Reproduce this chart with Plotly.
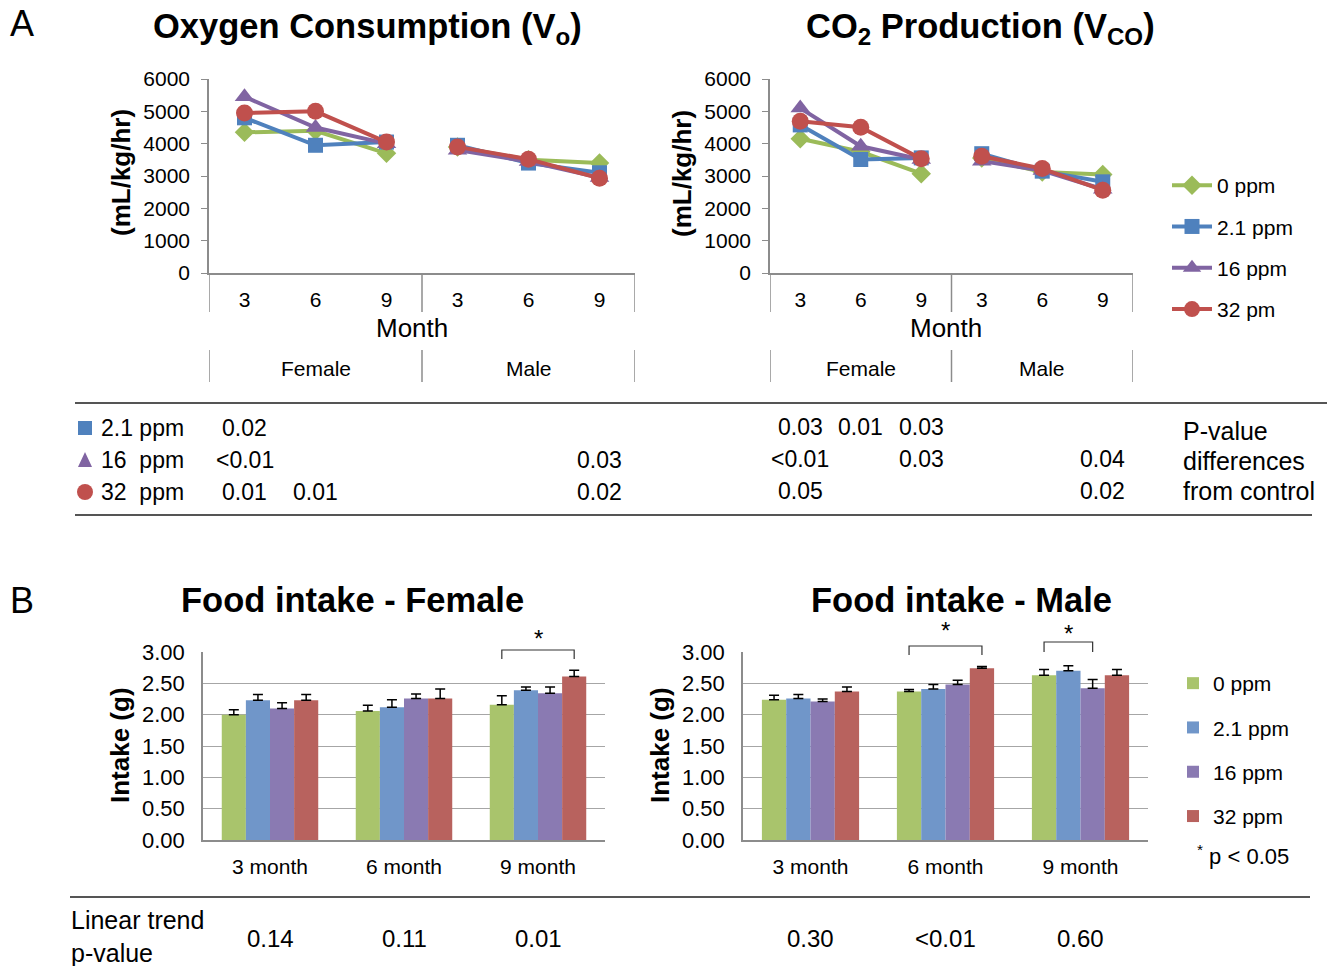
import plotly.graph_objects as go

W, H = 1327, 966
def px(x): return x / W
def py(y): return 1 - y / H

FONT = "Liberation Sans, Arial, sans-serif"

# ---------------- data ----------------
series = ["0 ppm", "2.1 ppm", "16 ppm", "32 pm"]
bar_series = ["0 ppm", "2.1 ppm", "16 ppm", "32 ppm"]
months = ["3", "6", "9"]
sexes = ["Female", "Male"]

# Oxygen consumption (mL/kg/hr): Female 3,6,9 then Male 3,6,9
o2_0ppm = [4350, 4400, 3700, 3900, 3500, 3400]
o2_2p1ppm = [4800, 3950, 4050, 3950, 3400, 3100]
o2_16ppm = [5450, 4500, 4000, 3800, 3450, 2950]
o2_32ppm = [4950, 5000, 4050, 3900, 3520, 2930]

# CO2 production (mL/kg/hr)
co2_0ppm = [4150, 3750, 3070, 3560, 3120, 3050]
co2_2p1ppm = [4580, 3510, 3560, 3690, 3150, 2820]
co2_16ppm = [5100, 3920, 3510, 3460, 3170, 2590]
co2_32ppm = [4690, 4510, 3530, 3610, 3230, 2560]

# p-value table (columns: Female 3,6,9, Male 3,6,9)
p_rows = ["2.1 ppm", "16  ppm", "32  ppm"]
p_o2 = [["0.02", "", "", "", "", ""],
        ["<0.01", "", "", "", "", "0.03"],
        ["0.01", "0.01", "", "", "", "0.02"]]
p_co2 = [["0.03", "0.01", "0.03", "", "", ""],
         ["<0.01", "", "0.03", "", "", "0.04"],
         ["0.05", "", "", "", "", "0.02"]]

# Food intake (g)
intake_months = ["3 month", "6 month", "9 month"]
female_0ppm = [2.00, 2.06, 2.16]
female_2p1ppm = [2.23, 2.12, 2.39]
female_16ppm = [2.10, 2.26, 2.34]
female_32ppm = [2.23, 2.26, 2.61]
female_err_0ppm = [0.08, 0.09, 0.14]
female_err_2p1ppm = [0.09, 0.12, 0.05]
female_err_16ppm = [0.09, 0.07, 0.10]
female_err_32ppm = [0.09, 0.15, 0.10]

male_0ppm = [2.24, 2.37, 2.63]
male_2p1ppm = [2.26, 2.41, 2.70]
male_16ppm = [2.21, 2.48, 2.42]
male_32ppm = [2.37, 2.74, 2.63]
male_err_0ppm = [0.07, 0.03, 0.09]
male_err_2p1ppm = [0.06, 0.07, 0.08]
male_err_16ppm = [0.04, 0.07, 0.14]
male_err_32ppm = [0.07, 0.03, 0.09]

trend_female = ["0.14", "0.11", "0.01"]
trend_male = ["0.30", "<0.01", "0.60"]

# ---------------- styles ----------------
line_colors = ["#9BBB59", "#4F81BD", "#8064A2", "#C0504D"]
bar_colors = ["#A9C46C", "#7096C9", "#8A7AB2", "#B8625E"]
symbols = ["diamond", "square", "triangle-up", "circle"]
msizes = [15, 15, 17, 17]
GRAY = "#8C8C8C"

fig = go.Figure()

o2_sets = [o2_0ppm, o2_2p1ppm, o2_16ppm, o2_32ppm]
co2_sets = [co2_0ppm, co2_2p1ppm, co2_16ppm, co2_32ppm]
n = len(months)
x_f = list(range(n))
x_m = [n + i for i in range(n)]
x_line = x_f + [None] + x_m

for axis_i, sets in enumerate([o2_sets, co2_sets]):
    xa = "x" if axis_i == 0 else "x2"
    ya = "y" if axis_i == 0 else "y2"
    for i, vals in enumerate(sets):
        fig.add_trace(go.Scatter(
            x=x_line, y=vals[:n] + [None] + vals[n:],
            xaxis=xa, yaxis=ya, mode="lines+markers", name=series[i],
            line=dict(color=line_colors[i], width=4),
            marker=dict(symbol=symbols[i], size=msizes[i], color=line_colors[i]),
            showlegend=(axis_i == 0), legend="legend", legendgroup=f"l{i}",
            connectgaps=False,
        ))

fem_sets = [female_0ppm, female_2p1ppm, female_16ppm, female_32ppm]
fem_errs = [female_err_0ppm, female_err_2p1ppm, female_err_16ppm, female_err_32ppm]
mal_sets = [male_0ppm, male_2p1ppm, male_16ppm, male_32ppm]
mal_errs = [male_err_0ppm, male_err_2p1ppm, male_err_16ppm, male_err_32ppm]

for axis_i, (sets, errs) in enumerate([(fem_sets, fem_errs), (mal_sets, mal_errs)]):
    xa = "x3" if axis_i == 0 else "x4"
    ya = "y3" if axis_i == 0 else "y4"
    for i, vals in enumerate(sets):
        fig.add_trace(go.Bar(
            x=intake_months, y=vals, xaxis=xa, yaxis=ya, name=bar_series[i],
            marker=dict(color=bar_colors[i], line=dict(width=0)),
            error_y=dict(type="data", array=errs[i], arrayminus=[0] * len(vals),
                         symmetric=False, color="black", thickness=1.5, width=5),
            showlegend=(axis_i == 1), legend="legend2", legendgroup=f"b{i}",
        ))

tickfont = dict(family=FONT, size=21, color="black")
bartickfont = dict(family=FONT, size=22, color="black")

def line_xaxis(dom, anchor):
    return dict(domain=dom, anchor=anchor, range=[-0.5, 2 * n - 0.5],
                tickvals=x_f + x_m, ticktext=months + months,
                showgrid=False, zeroline=False, showline=True, linecolor=GRAY,
                linewidth=1.5, ticks="", tickfont=tickfont, ticklabelstandoff=7,
                fixedrange=True, automargin=False)

def line_yaxis(dom, anchor):
    return dict(domain=dom, anchor=anchor, range=[0, 6000], dtick=1000,
                showgrid=False, zeroline=False, showline=True, linecolor=GRAY,
                linewidth=1.5, ticks="outside", ticklen=6, tickcolor=GRAY,
                tickfont=tickfont, ticklabelstandoff=7, automargin=False)

def bar_xaxis(dom, anchor):
    return dict(domain=dom, anchor=anchor, type="category", showgrid=False,
                showline=True, linecolor=GRAY, linewidth=1.5, ticks="",
                tickfont=tickfont, ticklabelstandoff=7, automargin=False)

def bar_yaxis(dom, anchor):
    return dict(domain=dom, anchor=anchor, range=[0, 3.0001], dtick=0.5,
                tickformat=".2f", showgrid=True, gridcolor="#A6A6A6", gridwidth=1,
                zeroline=False, showline=True, linecolor=GRAY, linewidth=1.5,
                ticks="", tickfont=bartickfont, ticklabelstandoff=12, automargin=False)

ydom_top = [py(273), py(79)]
ydom_bot = [py(840), py(652)]
bargap = 0.28

fig.update_layout(
    width=W, height=H, margin=dict(l=0, r=0, t=0, b=0, pad=0, autoexpand=False),
    paper_bgcolor="white", plot_bgcolor="white",
    font=dict(family=FONT, color="black"),
    barmode="group", bargap=bargap, bargroupgap=0,
    xaxis=line_xaxis([px(209), px(635)], "y"),
    yaxis=line_yaxis(ydom_top, "x"),
    xaxis2=line_xaxis([px(770), px(1133)], "y2"),
    yaxis2=line_yaxis(ydom_top, "x2"),
    xaxis3=bar_xaxis([px(203), px(605)], "y3"),
    yaxis3=bar_yaxis(ydom_bot, "x3"),
    xaxis4=bar_xaxis([px(743), px(1148)], "y4"),
    yaxis4=bar_yaxis(ydom_bot, "x4"),
    legend=dict(x=px(1167), y=py(165), xanchor="left", yanchor="top",
                font=dict(family=FONT, size=21), tracegroupgap=11,
                bgcolor="rgba(0,0,0,0)", itemwidth=40),
    legend2=dict(x=px(1173), y=py(663), xanchor="left", yanchor="top",
                 font=dict(family=FONT, size=21), tracegroupgap=14,
                 bgcolor="rgba(0,0,0,0)", itemwidth=30),
)

ann = []
def A(text, x, y, size=20, xref="paper", yref="paper", xanchor="center",
      yanchor="middle", color="black", angle=0, align="center"):
    ann.append(dict(text=text, x=x, y=y, xref=xref, yref=yref, xanchor=xanchor,
                    yanchor=yanchor, showarrow=False, textangle=angle, align=align,
                    font=dict(family=FONT, size=size, color=color)))

TS = 34.5
# panel letters and titles
A("A", px(22), py(23), size=36)
A("B", px(22), py(600), size=36)
A("<b>Oxygen Consumption (V<sub>o</sub>)</b>", px(367), py(28), size=TS)
A("<b>CO<sub>2</sub> Production (V<sub>CO</sub>)</b>", px(980), py(28), size=TS)
A("<b>Food intake - Female</b>", px(352), py(600), size=TS)
A("<b>Food intake - Male</b>", px(961), py(600), size=TS)

# axis titles
A("<b>(mL/kg/hr)</b>", px(121), py(173), size=26, angle=-90)
A("<b>(mL/kg/hr)</b>", px(682), py(173), size=26, angle=-90)
A("<b>Intake (g)</b>", px(120), py(745), size=26, angle=-90)
A("<b>Intake (g)</b>", px(660), py(745), size=26, angle=-90)
A("Month", px(412), py(328), size=26)
A("Month", px(946), py(328), size=26)

# sex group labels and dividers
shapes = []
for xa in ["x", "x2"]:
    for k, s in enumerate(sexes):
        A(s, (n - 1) / 2 + k * n, py(368), size=21, xref=xa)
    for xd in [-0.5, n - 0.5, 2 * n - 0.5]:
        for y0, y1 in [(273, 312), (350, 382)]:
            shapes.append(dict(type="line", xref=xa, yref="paper", x0=xd, x1=xd,
                               y0=py(y0), y1=py(y1), line=dict(color=GRAY, width=1.5)))

# p-value table
shapes.append(dict(type="line", xref="paper", yref="paper", x0=px(75), x1=1,
                   y0=py(403), y1=py(403), line=dict(color="#555555", width=2)))
shapes.append(dict(type="line", xref="paper", yref="paper", x0=px(75), x1=px(1312),
                   y0=py(515), y1=py(515), line=dict(color="#555555", width=2)))
row_y = [428, 460, 492]
# row key symbols (square, triangle, circle) in the dose colours
sx = 85
shapes.append(dict(type="rect", xref="paper", yref="paper", x0=px(sx - 7), x1=px(sx + 7),
                   y0=py(row_y[0] + 7), y1=py(row_y[0] - 7),
                   fillcolor=line_colors[1], line=dict(width=0)))
shapes.append(dict(type="path", xref="paper", yref="paper",
                   path=f"M {px(sx - 7)},{py(row_y[1] + 7)} L {px(sx + 7)},{py(row_y[1] + 7)} L {px(sx)},{py(row_y[1] - 8)} Z",
                   fillcolor=line_colors[2], line=dict(width=0)))
shapes.append(dict(type="circle", xref="paper", yref="paper", x0=px(sx - 8), x1=px(sx + 8),
                   y0=py(row_y[2] + 8), y1=py(row_y[2] - 8),
                   fillcolor=line_colors[3], line=dict(width=0)))
for r, lab in enumerate(p_rows):
    A(lab.replace(" ", "&nbsp;"), px(99), py(row_y[r]), size=23, xanchor="left")
    for c in range(2 * n):
        if p_o2[r][c]:
            A(p_o2[r][c].replace("<", "&lt;"), c, py(row_y[r]), size=23, xref="x")
        if p_co2[r][c]:
            A(p_co2[r][c].replace("<", "&lt;"), c, py(row_y[r] - 1), size=23, xref="x2")
A("P-value", px(1181), py(431), size=25, xanchor="left")
A("differences", px(1181), py(461), size=25, xanchor="left")
A("from control", px(1181), py(491), size=25, xanchor="left")

# significance brackets
w = (1 - bargap) / 4
def bracket(xa, cat, i0, i1, ytop, ybot, ystar):
    x0 = cat + (i0 - 1.5) * w
    x1 = cat + (i1 - 1.5) * w
    shapes.append(dict(type="path", xref=xa, yref="paper",
                       path=f"M {x0},{py(ybot)} L {x0},{py(ytop)} L {x1},{py(ytop)} L {x1},{py(ybot)}",
                       line=dict(color="#333333", width=1.2)))
    A("*", (x0 + x1) / 2, py(ystar), size=24, xref=xa)

bracket("x3", 2, 0, 3, 650, 659, 638)
bracket("x4", 1, 0, 3, 646, 655, 630)
bracket("x4", 2, 0, 2, 642, 652, 633)
A("<sup>*</sup> p &lt; 0.05", px(1195), py(855), size=22, xanchor="left")

# linear trend row
shapes.append(dict(type="line", xref="paper", yref="paper", x0=px(70), x1=px(1310),
                   y0=py(897), y1=py(897), line=dict(color="#555555", width=2)))
A("Linear trend<br>p-value", px(69), py(936), size=25, xanchor="left", align="left")
for c, t in enumerate(trend_female):
    A(t.replace("<", "&lt;"), c, py(938), size=24, xref="x3")
for c, t in enumerate(trend_male):
    A(t.replace("<", "&lt;"), c, py(938), size=24, xref="x4")

fig.update_layout(annotations=ann, shapes=shapes)
# remove the browser's default 8px body margin so the 1327x966 figure fills the window
fig.write_html("out.html", config={"displayModeBar": False},
               post_script="document.body.style.margin='0px';")
